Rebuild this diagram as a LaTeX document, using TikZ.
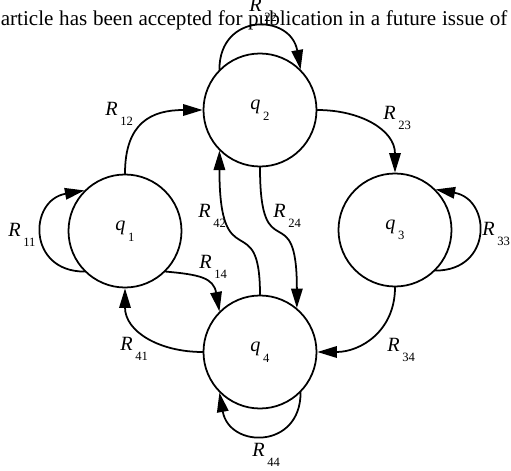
\documentclass[tikz,border=0pt]{standalone}
\usepackage{fontspec}
\setmainfont{Liberation Serif}
\usetikzlibrary{arrows.meta}
\definecolor{fsmInk}{HTML}{000000}
\tikzset{
 fsm/.style={line cap=round,line join=round,text=fsmInk,font=\fontsize{11.5}{13}\selectfont},
 state/.style={circle,draw=fsmInk,fill=white,line width=1pt,inner sep=0pt,minimum size=22.6mm},
 trans/.style={draw=fsmInk,line width=1pt,-{Triangle[length=3.9mm,width=2.3mm]}},
 rlabel/.style={anchor=base west,inner sep=0pt},
 header/.style={font=\fontsize{12}{14}\selectfont,anchor=base west,inner sep=0pt}
}
\newcommand{\subl}[2]{\textit{#1}\hspace{1.5pt}\raisebox{-6pt}{\fontsize{7.2}{8}\selectfont #2}}

\begin{document}
\begin{tikzpicture}[fsm,x=0.2mm,y=0.2mm]
 \useasboundingbox (0,0) rectangle (511,-471);
 \clip (0,0) rectangle (511,-471);
 \node[header] (hdr) at (0.5,-25) {\makebox[101.3mm][s]{article has been accepted for publication in a future issue of}};
 \node[state] (q1) at (125,-231) {\subl{q}{1}};
 \node[state] (q2) at (260,-110) {\subl{q}{2}};
 \node[state] (q3) at (395,-230) {\subl{q}{3}};
 \node[state] (q4) at (260,-352) {\subl{q}{4}};
 \draw[trans] (q1.225) to[out=180,in=190,looseness=1.8] (q1.135);
 \draw[trans] (q2.135) to[out=90,in=100,looseness=1.8] (q2.45);
 \draw[trans] (q3.-45) to[out=0,in=-10,looseness=1.8] (q3.45);
 \draw[trans] (q4.-45) to[out=270,in=280,looseness=1.8] (q4.225);
 \draw[trans] (q1.north) to[out=90,in=180,looseness=1.3] (q2.west);
 \draw[trans] (q2.east) to[out=0,in=90,looseness=1.1] (q3.north);
 \draw[trans] (q3.south) to[out=-90,in=0,looseness=1.1] (q4.east);
 \draw[trans] (q4.west) to[out=180,in=-90,looseness=1.1] (q1.south);
 \draw[trans] (q1.-45) to[out=-5,in=100,looseness=1.3] (q4.135);
 \draw[trans] (q4.north) .. controls +(0,90) and +(0,-130) .. (q2.225);
 \draw[trans] (q2.south) .. controls +(0,-105) and +(0,115) .. (q4.50);
 \node[rlabel] (l11) at (8,-236) {\subl{R}{11}};
 \node[rlabel] (l12) at (105,-115) {\subl{R}{12}};
 \node[rlabel] (l14) at (199,-268) {\subl{R}{14}};
 \node[rlabel] (l22) at (249,-11) {\subl{R}{22}};
 \node[rlabel] (l23) at (383,-119) {\subl{R}{23}};
 \node[rlabel] (l24) at (273,-217) {\subl{R}{24}};
 \node[rlabel] (l33) at (482,-235) {\subl{R}{33}};
 \node[rlabel] (l34) at (387,-351) {\subl{R}{34}};
 \node[rlabel] (l41) at (120,-350) {\subl{R}{41}};
 \node[rlabel] (l42) at (198,-217) {\subl{R}{42}};
 \node[rlabel] (l44) at (252,-456) {\subl{R}{44}};
\end{tikzpicture}
\end{document}
